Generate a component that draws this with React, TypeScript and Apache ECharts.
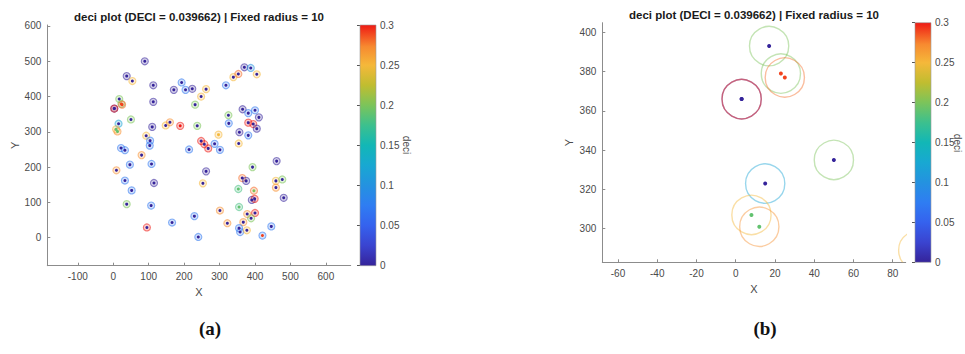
import React, { useEffect, useRef } from "react";
import * as echarts from "echarts";

// ---- data ----
const xs = [89, 38, 54, 113, 193, 204, 171, 223, 262, 248, 318, 339, 353, 370, 388, 405,
  17, 23, 25, 3, 3, 113, 231, 50, 15, 8, 12, 110, 148, 160, 189, 237, 297, 325, 326, 365,
  381, 400, 411, 381, 395, 405, 356, 381, 354, 93, 104, 103, 22, 33, 80, 214, 248, 257,
  268, 286, 301, 47, 108, 9, 262, 33, 115, 253, 52, 38, 107, 95, 166, 229, 240, 301, 322,
  393, 461, 364, 375, 353, 397, 459, 477, 459, 481, 391, 399, 355, 378, 400, 389, 367, 355,
  358, 377, 421, 446];
const ys = [500, 458, 444, 432, 440, 419, 419, 422, 421, 400, 432, 455, 464, 483, 481, 463,
  393, 379, 377, 366, 366, 385, 377, 335, 323, 307, 301, 314, 318, 327, 317, 317, 292, 347,
  324, 364, 353, 361, 341, 326, 322, 309, 299, 290, 267, 289, 275, 261, 254, 248, 234, 250,
  274, 265, 253, 266, 249, 207, 209, 191, 188, 162, 155, 154, 134, 95, 91, 29, 43, 61, 2, 77,
  41, 200, 217, 169, 161, 138, 133, 161, 165, 142, 113, 107, 110, 87, 67, 70, 55, 44, 27,
  16, 21, 6, 32];
const deci = [0, 0, 0, 0, 0, 0, 0, 0, 0, 0, 0, 0, 0, 0, 0, 0,
  0, 0.29, 0.29, 0, 0, 0, 0, 0, 0, 0.19, 0.19, 0, 0, 0, 0.3, 0, 0.25, 0, 0, 0,
  0, 0, 0, 0, 0, 0, 0, 0, 0, 0, 0, 0, 0, 0, 0, 0, 0, 0,
  0, 0, 0, 0, 0, 0, 0, 0, 0, 0, 0, 0, 0, 0, 0, 0, 0, 0, 0,
  0, 0, 0, 0, 0.19, 0.2, 0, 0, 0, 0, 0, 0, 0.19, 0, 0, 0, 0, 0,
  0, 0, 0.29, 0];
const ring = [0, 0, 0.25, 0, 0.07, 0.07, 0, 0, 0.25, 0.25, 0.07, 0.25, 0.28, 0, 0.1, 0.25,
  0.2, 0.2, 0.28, 0, 0.3, 0, 0.2, 0.2, 0.12, 0.25, 0.27, 0, 0.25, 0.27, 0.3, 0.2, 0.25, 0.2, 0.07, 0,
  0.07, 0.07, 0, 0.3, 0.3, 0, 0, 0.07, 0.25, 0.25, 0.07, 0.07, 0.07, 0.07, 0.27, 0.07, 0.3, 0.3,
  0.3, 0.07, 0.07, 0.07, 0.07, 0.27, 0, 0.07, 0, 0.25, 0.07, 0.2, 0.07, 0.3, 0.07, 0.07, 0.07, 0.27, 0.27,
  0.2, 0, 0.28, 0, 0.18, 0.28, 0.25, 0.2, 0.27, 0, 0, 0.3, 0.18, 0.27, 0.3, 0.2, 0.27, 0.07,
  0.07, 0.25, 0.07, 0.07];

const TITLE = "deci plot (DECI = 0.039662) | Fixed radius = 10";
const RADIUS = 10;
const xTicksA = [-100, 0, 100, 200, 300, 400, 500, 600];
const yTicksA = [0, 100, 200, 300, 400, 500, 600];
const xTicksB = [-60, -40, -20, 0, 20, 40, 60, 80];
const yTicksB = [300, 320, 340, 360, 380, 400];
const CB_MIN = 0;
const CB_MAX = 0.3;
const CB_STEP = 0.05;

const cmapStops: [number, string][] = [
  [0, "#35239a"], [0.083, "#3a44d0"], [0.167, "#3562ee"], [0.25, "#2f7df2"],
  [0.333, "#2492e0"], [0.417, "#18a8d2"], [0.5, "#12b7b6"], [0.583, "#3cc08e"],
  [0.667, "#7cc45a"], [0.75, "#c0bd30"], [0.833, "#f5b83a"], [0.91, "#f78a30"], [1, "#ef1a14"],
];

function hex(h: string) {
  return [parseInt(h.slice(1, 3), 16), parseInt(h.slice(3, 5), 16), parseInt(h.slice(5, 7), 16)];
}
function cmap(v: number, a = 1) {
  const t = Math.max(0, Math.min(1, (v - CB_MIN) / (CB_MAX - CB_MIN)));
  let i = 0;
  while (i < cmapStops.length - 2 && t > cmapStops[i + 1][0]) i++;
  const [t0, c0] = cmapStops[i];
  const [t1, c1] = cmapStops[i + 1];
  const f = (t - t0) / (t1 - t0);
  const a0 = hex(c0), a1 = hex(c1);
  const c = a0.map((q, k) => Math.round(q + (a1[k] - q) * f));
  return `rgba(${c[0]},${c[1]},${c[2]},${a})`;
}

const FONT = "'Liberation Sans', Arial, Helvetica, sans-serif";
const SERIF = "'Liberation Serif', 'DejaVu Serif', serif";
const AX = "#8c8c8c";
const LAB = "#4a4a4a";

function axis(gridIndex: number, min: number, max: number, ticks: number[], name: string, nameGap: number) {
  return {
    type: "value", gridIndex, min, max, name, nameLocation: "middle", nameGap,
    nameTextStyle: { color: LAB, fontSize: 11, fontFamily: FONT },
    axisLine: { show: true, onZero: false, lineStyle: { color: AX, width: 1 } },
    axisTick: { show: true, inside: true, length: 3, customValues: ticks, lineStyle: { color: AX } },
    axisLabel: { customValues: ticks, color: LAB, fontSize: 10, fontFamily: FONT, margin: 6 },
    splitLine: { show: false },
  };
}

function label(x: number, y: number, text: string, size: number, weight: string, family: string, fill: string, rotation = 0) {
  return {
    type: "text", x, y, rotation, silent: true,
    style: { text, fontSize: size, fontWeight: weight, fontFamily: family, fill, align: "center", verticalAlign: "middle" },
  };
}

export default function App() {
  const ref = useRef<HTMLDivElement>(null);
  useEffect(() => {
    if (!ref.current) return;
    const chart = echarts.init(ref.current, undefined, { renderer: "svg" });
    const pts = xs.map((x, i) => [x, ys[i], deci[i], ring[i]]);

    const ringSeries = (idx: number, lw: number, fillA: number, strokeA: number) => ({
      type: "custom", xAxisIndex: idx, yAxisIndex: idx, clip: true, silent: true,
      data: pts,
      renderItem: (params: any, api: any) => {
        const c = api.coord([api.value(0), api.value(1)]);
        const s = api.size([RADIUS, RADIUS]);
        const v = api.value(3);
        return {
          type: "circle",
          shape: { cx: c[0], cy: c[1], r: s[0] },
          style: { fill: fillA > 0 ? cmap(v, fillA) : "none", stroke: cmap(v, strokeA), lineWidth: lw },
        };
      },
    });
    const dotSeries = (idx: number, size: number) => ({
      type: "scatter", xAxisIndex: idx, yAxisIndex: idx, clip: true, silent: true,
      symbolSize: size, data: pts,
      itemStyle: { color: (p: any) => cmap(p.value[2]), opacity: 1 },
    });
    const cbSeries = (idx: number) => ({
      type: "custom", xAxisIndex: idx, yAxisIndex: idx, silent: true,
      data: [[0, CB_MIN]],
      renderItem: (params: any, api: any) => {
        const p0 = api.coord([0, CB_MIN]);
        const p1 = api.coord([1, CB_MAX]);
        return {
          type: "rect",
          shape: { x: p0[0], y: p1[1], width: p1[0] - p0[0], height: p0[1] - p1[1] },
          style: {
            fill: new echarts.graphic.LinearGradient(0, 1, 0, 0,
              cmapStops.map(([o, c]) => ({ offset: o, color: c }))),
            stroke: "#9a9a9a", lineWidth: 0.6,
          },
        };
      },
    });
    const cbY = (gridIndex: number) => ({
      type: "value", gridIndex, min: CB_MIN, max: CB_MAX, interval: CB_STEP, position: "right",
      axisLine: { show: false },
      axisTick: { show: true, inside: true, length: 3, lineStyle: { color: "#555" } },
      axisLabel: { color: LAB, fontSize: 10, fontFamily: FONT, margin: 4 },
      splitLine: { show: false },
    });
    const cbX = (gridIndex: number) => ({ type: "value", gridIndex, min: 0, max: 1, show: false });

    chart.setOption({
      animation: false,
      backgroundColor: "#ffffff",
      grid: [
        { left: 47.3, top: 25, width: 303.4, height: 240.7 },
        { left: 602.3, top: 22.7, width: 303.4, height: 239.6 },
        { left: 360, top: 25, width: 16, height: 240.7 },
        { left: 915, top: 22.7, width: 16, height: 239.6 },
      ],
      xAxis: [
        axis(0, -186, 670, xTicksA, "X", 20),
        axis(1, -68, 86.6, xTicksB, "X", 19),
        cbX(2), cbX(3),
      ],
      yAxis: [
        axis(0, -79.4, 602.8, yTicksA, "Y", 27),
        axis(1, 282.9, 404.9, yTicksB, "Y", 28),
        cbY(2), cbY(3),
      ],
      series: [
        ringSeries(0, 1.1, 0.22, 0.55),
        dotSeries(0, 3),
        ringSeries(1, 1.4, 0, 0.45),
        dotSeries(1, 4),
        cbSeries(2),
        cbSeries(3),
      ],
      graphic: [
        label(199, 16.5, TITLE, 11.5, "bold", FONT, "#1a1a1a"),
        label(754, 14.5, TITLE, 11.5, "bold", FONT, "#1a1a1a"),
        label(406, 145, "deci", 10, "normal", FONT, LAB, -Math.PI / 2),
        label(957, 143, "deci", 10, "normal", FONT, LAB, -Math.PI / 2),
        label(210, 328, "(a)", 19, "bold", SERIF, "#111"),
        label(765, 328, "(b)", 19, "bold", SERIF, "#111"),
      ],
    });
    return () => chart.dispose();
  }, []);
  return <div ref={ref} style={{ position: "absolute", left: 0, top: 0, width: 965, height: 354 }} />;
}
